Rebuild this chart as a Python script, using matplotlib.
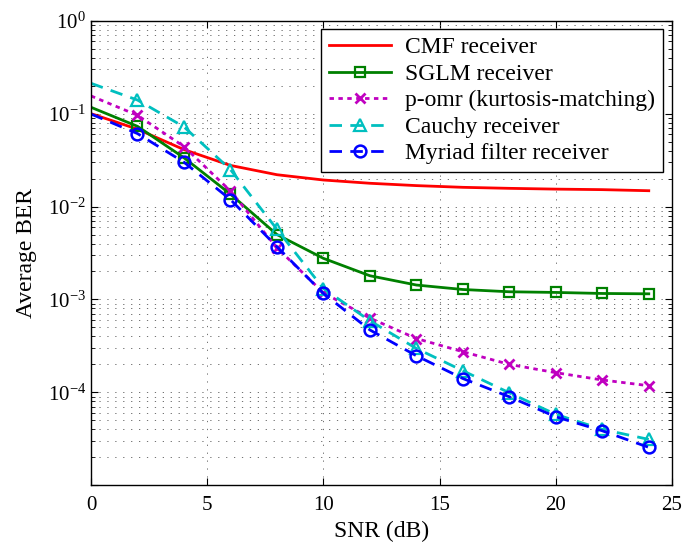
import math
import matplotlib
matplotlib.use("Agg")
import matplotlib.pyplot as plt
from matplotlib.ticker import FixedLocator, FuncFormatter, LogLocator, NullFormatter

plt.rcParams['font.family'] = ['Liberation Serif', 'DejaVu Serif']
plt.rcParams['mathtext.fontset'] = 'custom'
plt.rcParams['mathtext.rm'] = 'Liberation Serif'
plt.rcParams['mathtext.it'] = 'Liberation Serif:italic'

snr = [0, 2, 4, 6, 8, 10, 12, 14, 16, 18, 20, 22, 24]
cmf = [0.100, 0.068, 0.041, 0.0277, 0.0220, 0.0193, 0.0178, 0.0168, 0.0161, 0.0157, 0.0154, 0.0152, 0.0148]
sglm = [0.117, 0.073, 0.0335, 0.0136, 0.0050, 0.00277, 0.00180, 0.00143, 0.00128, 0.00121, 0.00119, 0.00116, 0.00115]
pomr = [0.155, 0.096, 0.0442, 0.0147, 0.0036, 0.00118, 0.00063, 0.00038, 0.000274, 0.000200, 0.000163, 0.000136, 0.000118]
cauchy = [0.212, 0.140, 0.072, 0.0250, 0.0057, 0.00131, 0.00059, 0.000297, 0.000171, 0.000099, 0.000058, 0.000040, 0.0000312]
myriad = [0.099, 0.061, 0.030, 0.0119, 0.0037, 0.00116, 0.00047, 0.000248, 0.000141, 0.0000897, 0.0000546, 0.0000386, 0.0000256]

labels = ['CMF receiver', 'SGLM receiver', 'p-omr (kurtosis-matching)',
          'Cauchy receiver', 'Myriad filter receiver']
xticks = [0, 5, 10, 15, 20, 25]
yticks = [1e-5, 1e-4, 1e-3, 1e-2, 1e-1, 1e0]

fig = plt.figure(figsize=(6.82, 5.5), dpi=100)
ax = fig.add_axes([91/682, 1-485.3/550, (672-91)/682, (485.3-20.7)/550])

me = slice(1, None)
ax.plot(snr, cmf, color='#ff0000', lw=2, label=labels[0])
ax.plot(snr, sglm, color='#008000', lw=2, marker='s', ms=7, mfc='none', mew=1.6,
        markevery=me, label=labels[1])
ax.plot(snr, pomr, color='#c000c0', lw=2, ls=(0, (1.6, 1.6)), marker='x', ms=6.5, mew=2,
        markevery=me, label=labels[2])
ax.plot(snr, cauchy, color='#00bfbf', lw=2, ls=(0, (4.5, 3)), marker='^', ms=8.5, mfc='none', mew=1.6,
        markevery=me, label=labels[3])
ax.plot(snr, myriad, color='#0000ff', lw=2, ls=(0, (4.5, 3)), marker='o', ms=8.5, mfc='none', mew=1.8,
        markevery=me, label=labels[4])

ax.set_yscale('log')
ax.set_xlim(0, 25)
ax.set_ylim(1e-5, 1e0)
ax.xaxis.set_major_locator(FixedLocator(xticks))
ax.yaxis.set_major_locator(FixedLocator(yticks))
ax.yaxis.set_major_formatter(FuncFormatter(
    lambda v, p: '' if v < 5e-5 else r'$10^{%d}$' % round(math.log10(v))))
ax.yaxis.set_minor_locator(LogLocator(base=10, subs=range(2, 10), numticks=20))
ax.yaxis.set_minor_formatter(NullFormatter())

ax.tick_params(which='both', direction='in', top=True, right=True, labelsize=15)
ax.tick_params(which='major', length=5, width=0.8)
ax.tick_params(which='minor', length=3, width=0.6)
ax.tick_params(axis='x', pad=8)

grid_ls = (0, (1.5, 8))
ax.grid(True, which='major', axis='both', color='0.35', lw=0.6, ls=grid_ls)
ax.grid(True, which='minor', axis='y', color='0.35', lw=0.6, ls=grid_ls)
for s in ax.spines.values():
    s.set_linewidth(1.0)

ax.set_xlabel('SNR (dB)', fontsize=17, labelpad=4)
ax.set_ylabel('Average BER', fontsize=17, labelpad=8)

leg = ax.legend(loc='upper right', bbox_to_anchor=(1 - 9/581, 1 - 8.6/464.6), borderaxespad=0,
                fontsize=17, fancybox=False, framealpha=1, edgecolor='black',
                handlelength=2.65, handletextpad=0.6, labelspacing=0.21, borderpad=0.32, numpoints=1)
leg.get_frame().set_linewidth(1.0)

fig.savefig('out.png', dpi=100)
